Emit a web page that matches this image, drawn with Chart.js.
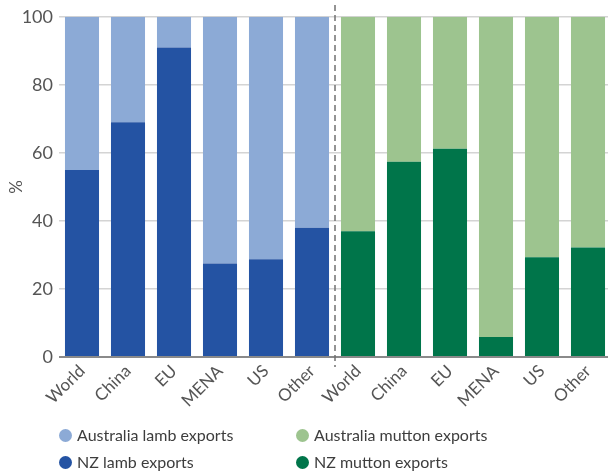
<!DOCTYPE html>
<html>
<head>
<meta charset="utf-8">
<script src="https://cdn.jsdelivr.net/npm/chart.js@4"></script>
<style>
    html, body { margin: 0; padding: 0; background: #fff; overflow: hidden; }
    #wrap { position: relative; width: 611px; height: 475px; }
    .legend { position: absolute; left: 0; top: 0; font-family: Lato, sans-serif; font-size: 16px; color: #3d3d3d; }
    .legend-item { position: absolute; white-space: nowrap; display: flex; align-items: center; line-height: 18px; }
    .legend-item span.dot { width: 13px; height: 13px; border-radius: 50%; margin-right: 5px; display: inline-block; }
</style>
</head>
<body>
<div id="wrap">
    <canvas id="exportsChart"></canvas>
    <div class="legend" id="legend"></div>
</div>
<script>
// === DATOS ===
const markets = ['World', 'China', 'EU', 'MENA', 'US', 'Other'];
const nzLamb = [55, 69, 91, 27.5, 28.7, 38];
const ausLamb = [45, 31, 9, 72.5, 71.3, 62];
const nzMutton = [37, 57.4, 61.2, 5.9, 29.3, 32.2];
const ausMutton = [63, 42.6, 38.8, 94.1, 70.7, 67.8];
const yTicks = [0, 20, 40, 60, 80, 100];

const blank = markets.map(() => null);
const labels = markets.concat(markets);

const COLORS = {
    ausLamb: '#8caad6',
    nzLamb: '#2453a3',
    ausMutton: '#9dc48f',
    nzMutton: '#00754a'
};

// línea discontinua entre lamb y mutton
const dividerPlugin = {
    id: 'divider',
    afterDatasetsDraw(chart) {
        const { ctx, scales: { x, y } } = chart;
        const px = (x.getPixelForValue(5) + x.getPixelForValue(6)) / 2;
        ctx.save();
        ctx.strokeStyle = '#707070';
        ctx.lineWidth = 1.5;
        ctx.setLineDash([6, 4]);
        ctx.beginPath();
        ctx.moveTo(px, 5);
        ctx.lineTo(px, y.bottom + 10);
        ctx.stroke();
        ctx.restore();
    }
};

const ctx = document.getElementById('exportsChart').getContext('2d');
new Chart(ctx, {
    type: 'bar',
    data: {
        labels: labels,
        datasets: [{
            label: 'NZ lamb exports',
            data: nzLamb.concat(blank),
            backgroundColor: COLORS.nzLamb
        }, {
            label: 'Australia lamb exports',
            data: ausLamb.concat(blank),
            backgroundColor: COLORS.ausLamb
        }, {
            label: 'NZ mutton exports',
            data: blank.concat(nzMutton),
            backgroundColor: COLORS.nzMutton
        }, {
            label: 'Australia mutton exports',
            data: blank.concat(ausMutton),
            backgroundColor: COLORS.ausMutton
        }]
    },
    options: {
        responsive: true,
        maintainAspectRatio: false,
        animation: false,
        layout: { padding: { top: 12, right: 0, bottom: 0, left: 0 } },
        datasets: { bar: { categoryPercentage: 1, barPercentage: 0.74, borderWidth: 0 } },
        plugins: {
            legend: { display: false },
            tooltip: { enabled: false }
        },
        scales: {
            x: {
                stacked: true,
                grid: { display: false },
                border: { display: false },
                afterFit: scale => { scale.height = 118; },
                ticks: {
                    color: '#555',
                    font: { family: 'Lato', size: 17 },
                    minRotation: 45,
                    maxRotation: 45,
                    padding: -4
                }
            },
            y: {
                stacked: true,
                min: 0,
                max: 100,
                afterFit: scale => { scale.width = 59; },
                afterBuildTicks: scale => { scale.ticks = yTicks.map(v => ({ value: v })); },
                border: { display: false },
                grid: {
                    drawTicks: false,
                    color: c => c.tick.value === 0 ? '#8a8a8a' : '#d4d4d4',
                    lineWidth: c => c.tick.value === 0 ? 2 : 1.5
                },
                title: {
                    display: true,
                    text: '%',
                    color: '#555',
                    font: { family: 'Lato', size: 17 },
                    padding: { top: 6, bottom: 0 }
                },
                ticks: {
                    color: '#555',
                    font: { family: 'Lato', size: 18 },
                    padding: 6
                }
            }
        }
    },
    plugins: [dividerPlugin]
});

// === LEYENDA ===
const legendItems = [
    { text: 'Australia lamb exports', color: COLORS.ausLamb, left: 59, top: 426 },
    { text: 'Australia mutton exports', color: COLORS.ausMutton, left: 296, top: 426 },
    { text: 'NZ lamb exports', color: COLORS.nzLamb, left: 59, top: 453 },
    { text: 'NZ mutton exports', color: COLORS.nzMutton, left: 296, top: 453 }
];
const legendEl = document.getElementById('legend');
legendItems.forEach(item => {
    const div = document.createElement('div');
    div.className = 'legend-item';
    div.style.left = item.left + 'px';
    div.style.top = item.top + 'px';
    div.innerHTML = '<span class="dot" style="background:' + item.color + '"></span>' + item.text;
    legendEl.appendChild(div);
});
</script>
</body>
</html>
